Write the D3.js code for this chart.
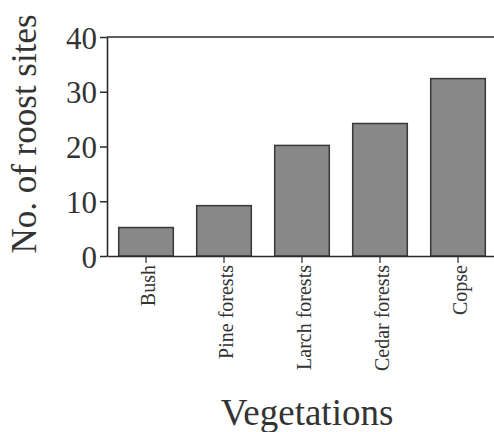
<!DOCTYPE html>
<html><head><meta charset="utf-8">
<script src="https://cdn.jsdelivr.net/npm/d3@7"></script>
<style>body{margin:0;background:#fff}svg{display:block}</style>
</head><body>
<script>
const categories = ["Bush", "Pine forests", "Larch forests", "Cedar forests", "Copse"];
const values = [5.2, 9.2, 20.2, 24.2, 32.4];
const yTicks = [0, 10, 20, 30, 40];
const xTitle = "Vegetations";
const yTitle = "No. of roost sites";

const W = 494, H = 432;
const m = {left: 107, top: 37, right: -3, bottom: 176};
const svg = d3.select("body").append("svg").attr("width", W).attr("height", H);
const x = d3.scaleBand().domain(categories).range([m.left, W - m.right]).paddingInner(0.3).paddingOuter(0.15);
const y = d3.scaleLinear().domain([0, 40]).range([H - m.bottom, m.top]);
const font = "'Liberation Serif','Times New Roman',serif";
const ink = "#2a2a2a";

// bars
svg.append("g").selectAll("rect").data(values).join("rect")
  .attr("x", (d, i) => x(categories[i]))
  .attr("y", d => y(d))
  .attr("width", x.bandwidth())
  .attr("height", d => y(0) - y(d))
  .attr("fill", "#888888")
  .attr("stroke", "#383838")
  .attr("stroke-width", 1.5);

// top border
svg.append("line").attr("x1", m.left).attr("x2", W).attr("y1", y(40)).attr("y2", y(40))
  .attr("stroke", ink).attr("stroke-width", 1.6);

// y axis
const ya = svg.append("g").attr("transform", `translate(${m.left},0)`)
  .call(d3.axisLeft(y).tickValues(yTicks).tickSize(7).tickPadding(3).tickSizeOuter(0));
ya.select(".domain").attr("stroke", ink).attr("stroke-width", 1.6);
ya.selectAll(".tick line").attr("stroke", ink).attr("stroke-width", 1.5);
ya.selectAll(".tick text").attr("font-family", font).attr("font-size", 31).attr("fill", "#333").attr("dy", "0.36em");

// x axis
const xa = svg.append("g").attr("transform", `translate(0,${y(0)})`)
  .call(d3.axisBottom(x).tickSize(7).tickSizeOuter(0));
xa.select(".domain").attr("stroke", ink).attr("stroke-width", 1.6);
xa.selectAll(".tick line").attr("stroke", ink).attr("stroke-width", 1.2);
xa.selectAll(".tick text")
  .attr("font-family", font).attr("font-size", 20).attr("fill", "#333")
  .attr("text-anchor", "end").attr("dy", 0)
  .attr("transform", "translate(9,0) rotate(-90)")
  .attr("x", -9).attr("y", 0);

// titles
svg.append("text").attr("x", 307).attr("y", 425).attr("text-anchor", "middle")
  .attr("font-family", font).attr("font-size", 37).attr("fill", "#333").text(xTitle);
svg.append("text").attr("transform", "translate(36,134) rotate(-90)").attr("text-anchor", "middle")
  .attr("font-family", font).attr("font-size", 35).attr("fill", "#333").text(yTitle);
</script>
</body></html>
